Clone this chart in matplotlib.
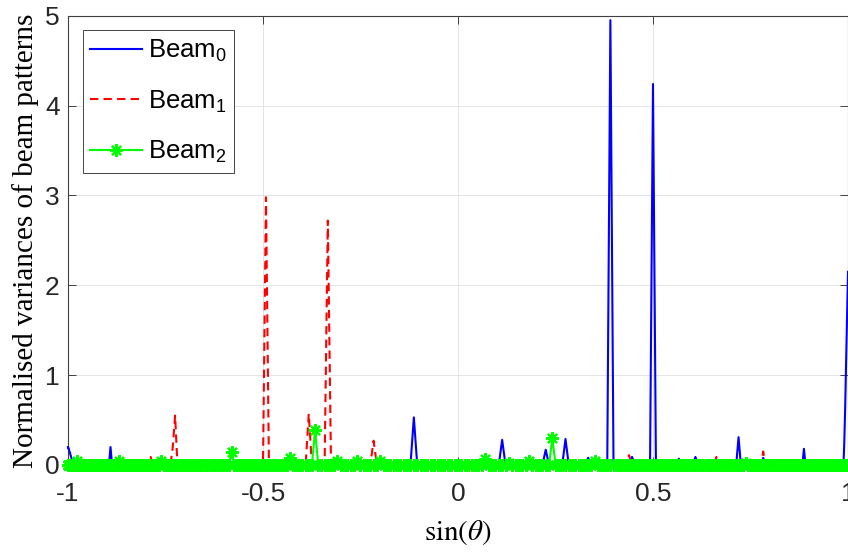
import numpy as np
import matplotlib
matplotlib.use("Agg")
import matplotlib.pyplot as plt

plt.rcParams["font.family"] = ["Liberation Sans", "DejaVu Sans"]
plt.rcParams["mathtext.fontset"] = "custom"
plt.rcParams["mathtext.rm"] = "Liberation Sans"
plt.rcParams["mathtext.it"] = "Liberation Sans:italic"
plt.rcParams["mathtext.bf"] = "Liberation Sans:bold"
plt.rcParams["axes.unicode_minus"] = False

# Steering-angle grid (degrees); curves are plotted against sin(theta)
theta_step_deg = 0.5
theta_deg = np.arange(-90.0, 90.0 + theta_step_deg, theta_step_deg)
sin_theta = np.sin(np.deg2rad(theta_deg))

# Beam 0 samples that differ from zero (angle in degrees, normalised variance)
beam0_deg = [-90, -89.5, -89, -88.5, -88, -87.5, -87, -86.5, -86, -85.5,
             -85, -84.5, -84, -83.5, -83, -82.5, -82, -81.5, -81, -80.5,
             -63, -51, -6.5, 3, 6.5, 9.5, 13, 16, 19.5, 23, 26.5, 30,
             34.5, 37.5, 46, 51.5, 62.5,
             81.5, 82, 82.5, 83, 83.5, 84, 84.5, 85, 85.5, 86, 86.5,
             87, 87.5, 88, 88.5, 89, 89.5, 90]
beam0_val = [0.20, 0.20, 0.20, 0.20, 0.19, 0.19, 0.18, 0.18, 0.17, 0.16,
             0.15, 0.14, 0.13, 0.11, 0.10, 0.08, 0.06, 0.05, 0.03, 0.02,
             0.20, 0.05, 0.53, 0.04, 0.28, 0.03, 0.17, 0.29, 0.08, 4.95, 0.09, 4.24,
             0.07, 0.09, 0.31, 0.08, 0.18,
             0.08, 0.22, 0.40, 0.60, 0.82, 1.03, 1.22, 1.40, 1.55, 1.68, 1.80,
             1.90, 1.98, 2.05, 2.09, 2.12, 2.14, 2.15]

# Beam 1 samples that differ from zero
beam1_deg = [-57.5, -52, -47, -46.5, -29.5, -22.5, -19.5, -12.5, 26, 41.5, 51.5]
beam1_val = [0.05, 0.09, 0.20, 0.55, 2.98, 0.57, 2.72, 0.27, 0.11, 0.09, 0.15]

# Beam 2 samples that differ from zero
beam2_deg = [-77.5, -60.5, -49.5, -35.5, -25.5, -21.5, -18, -15, -11.5,
             4, 7.5, 10.5, 14, 20.5, 47.5]
beam2_val = [0.05, 0.04, 0.05, 0.14, 0.08, 0.39, 0.05, 0.04, 0.04,
             0.07, 0.02, 0.04, 0.30, 0.05, 0.02]

series_labels = ["Beam$_0$", "Beam$_1$", "Beam$_2$"]
xtick_values = [-1, -0.5, 0, 0.5, 1]
xtick_labels = ["-1", "-0.5", "0", "0.5", "1"]
ytick_values = [0, 1, 2, 3, 4, 5]
ytick_labels = ["0", "1", "2", "3", "4", "5"]


def on_grid(deg, val):
    y = np.zeros_like(theta_deg)
    idx = np.round((np.asarray(deg) - theta_deg[0]) / theta_step_deg).astype(int)
    y[idx] = val
    return y


beam0 = on_grid(beam0_deg, beam0_val)
beam1 = on_grid(beam1_deg, beam1_val)
beam2 = on_grid(beam2_deg, beam2_val)

fig = plt.figure(figsize=(8.48, 5.52), dpi=100)
ax = fig.add_axes([68 / 848, 87 / 552, 780 / 848, 449.3 / 552])

ax.plot(sin_theta, beam0, color=(0, 0, 1), lw=1.5, label=series_labels[0],
        clip_on=False, zorder=3)
ax.plot(sin_theta, beam1, color=(1, 0, 0), lw=1.5, ls=(0, (4, 2.5)),
        label=series_labels[1], clip_on=False, zorder=3)
ax.plot(sin_theta, beam2, color=(0, 1, 0), lw=1.5, marker=(8, 2, 0),
        markersize=9, markeredgewidth=1.6, label=series_labels[2],
        clip_on=False, zorder=4)

ax.set_xlim(-1, 1)
ax.set_ylim(0, 5)
ax.set_xticks(xtick_values)
ax.set_xticklabels(xtick_labels)
ax.set_yticks(ytick_values)
ax.set_yticklabels(ytick_labels)

ax.grid(True, color="#dfdfdf", linewidth=0.6)
ax.set_axisbelow(True)
for sp in ax.spines.values():
    sp.set_color("#404040")
    sp.set_linewidth(0.8)
ax.tick_params(direction="in", length=5.5, width=0.6, color="#262626",
               labelsize=19, labelcolor="#262626", top=True, right=True)
ax.tick_params(axis="x", pad=12)
ax.tick_params(axis="y", pad=6)

ax.set_xlabel(r"$\sin(\theta)$", fontsize=21, math_fontfamily="stix")
ax.xaxis.set_label_coords(0.5, -0.118)
ax.set_ylabel("Normalised variances of beam patterns", fontsize=21,
              family="Liberation Serif")
ax.yaxis.set_label_coords(-0.037, 0.5)

leg = ax.legend(loc="upper left", bbox_to_anchor=(0.0188, 0.968),
                borderaxespad=0, fontsize=18.5, handlelength=2.0,
                handletextpad=0.23, borderpad=0.3, labelspacing=0.95,
                frameon=True, fancybox=False, framealpha=1,
                edgecolor="#262626", numpoints=1)
leg.get_frame().set_linewidth(0.6)

fig.savefig("out.png", dpi=100)
